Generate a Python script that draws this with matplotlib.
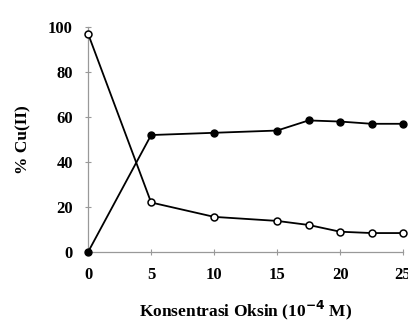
import matplotlib
matplotlib.use("Agg")
import matplotlib.pyplot as plt

# Konsentrasi oksin (10^-4 M)
konsentrasi = [0, 5, 10, 15, 17.5, 20, 22.5, 25]
# % Cu(II) - filled markers (terekstrak)
cu_filled = [0, 52, 53, 54, 58.5, 58, 57, 57]
# % Cu(II) - open markers (sisa)
cu_open = [97, 22, 15.6, 13.8, 12, 9, 8.4, 8.4]

y_ticks = [0, 20, 40, 60, 80, 100]
x_ticks = [0, 5, 10, 15, 20, 25]

plt.rcParams['font.family'] = ['Liberation Serif', 'DejaVu Serif']
plt.rcParams['font.weight'] = 'bold'

fig = plt.figure(figsize=(4.08, 3.23), dpi=100)
ax = fig.add_axes([0.216, 0.22, 0.772, 0.696])

ax.plot(konsentrasi, cu_filled, color='black', linewidth=1.3,
        marker='o', markersize=5, markerfacecolor='black', clip_on=False, zorder=3)
ax.plot(konsentrasi, cu_open, color='black', linewidth=1.3,
        marker='o', markersize=5, markerfacecolor='white', markeredgewidth=1.1,
        clip_on=False, zorder=3)

ax.set_xlim(0, 25)
ax.set_ylim(0, 100)
ax.set_xticks(x_ticks)
ax.set_yticks(y_ticks)

for side in ['top', 'right']:
    ax.spines[side].set_visible(False)
for side in ['left', 'bottom']:
    ax.spines[side].set_color('#999999')
    ax.spines[side].set_linewidth(0.9)

ax.tick_params(axis='both', direction='inout', length=4, width=0.8, color='#999999',
               labelsize=12, pad=9, labelcolor='black')
for lbl in ax.get_xticklabels() + ax.get_yticklabels():
    lbl.set_fontweight('bold')

ax.set_ylabel('% Cu(II)', fontsize=12.5, fontweight='bold', labelpad=12)
ax.set_xlabel('Konsentrasi Oksin (10$^{-4}$ M)', fontsize=12.5, fontweight='bold', labelpad=11)

fig.savefig('out.png', dpi=100)
